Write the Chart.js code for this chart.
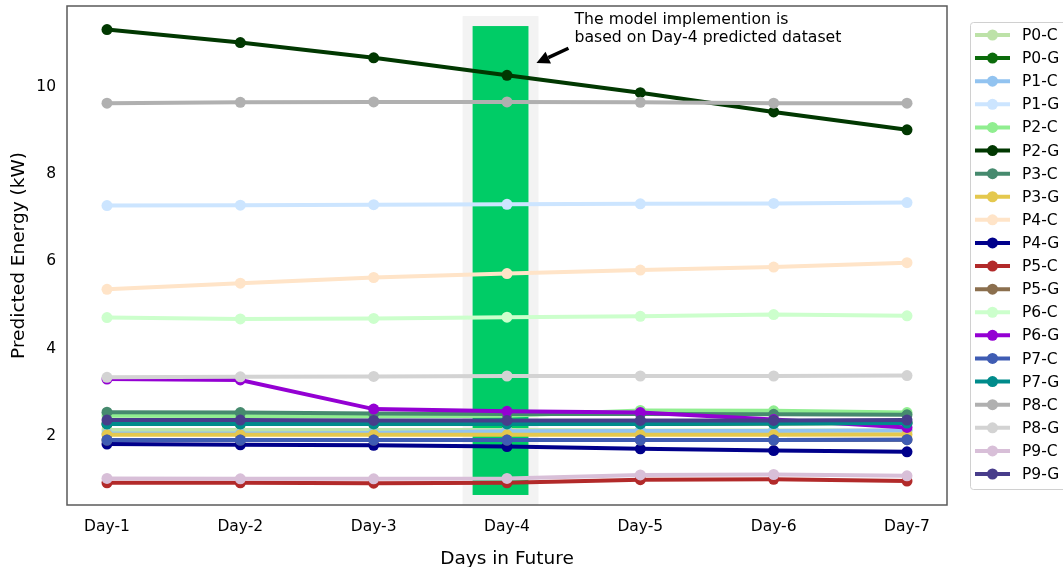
<!DOCTYPE html>
<html>
<head>
<meta charset="utf-8">
<script src="https://cdn.jsdelivr.net/npm/chart.js@4/dist/chart.umd.min.js"></script>
<style>
  html, body { margin: 0; padding: 0; background: #ffffff; }
  #wrap { width: 1063px; height: 567px; }
</style>
</head>
<body>
<div id="wrap"><canvas id="chart" width="1063" height="567"></canvas></div>
<script>
// Forecast horizon
const days = ['Day-1', 'Day-2', 'Day-3', 'Day-4', 'Day-5', 'Day-6', 'Day-7'];
const dayPos = [1, 2, 3, 4, 5, 6, 7];
const yTicks = [2, 4, 6, 8, 10];

// Predicted energy per plant (kW); C = consumption, G = generation
const p0c = [2.13, 2.13, 2.13, 2.13, 2.12, 2.12, 2.12];
const p0g = [2.27, 2.27, 2.27, 2.27, 2.27, 2.28, 2.29];
const p1c = [2.05, 2.05, 2.06, 2.10, 2.11, 2.11, 2.12];
const p1g = [7.28, 7.29, 7.30, 7.31, 7.32, 7.33, 7.35];
const p2c = [2.46, 2.45, 2.44, 2.46, 2.58, 2.57, 2.53];
const p2g = [11.32, 11.02, 10.67, 10.27, 9.87, 9.43, 9.02];
const p3c = [2.54, 2.53, 2.51, 2.50, 2.50, 2.49, 2.48];
const p3g = [2.02, 2.02, 2.02, 2.02, 2.02, 2.02, 2.03];
const p4c = [5.36, 5.50, 5.63, 5.72, 5.80, 5.87, 5.97];
const p4g = [1.81, 1.79, 1.78, 1.75, 1.70, 1.66, 1.63];
const p5c = [0.92, 0.92, 0.91, 0.92, 0.99, 1.00, 0.96];
const p5g = [1.90, 1.90, 1.90, 1.90, 1.90, 1.90, 1.91];
const p6c = [4.71, 4.68, 4.69, 4.72, 4.74, 4.78, 4.75];
const p6g = [3.30, 3.28, 2.61, 2.56, 2.53, 2.37, 2.19];
const p7c = [1.90, 1.90, 1.90, 1.90, 1.90, 1.90, 1.91];
const p7g = [2.27, 2.27, 2.27, 2.27, 2.27, 2.28, 2.29];
const p8c = [9.63, 9.65, 9.66, 9.66, 9.65, 9.63, 9.63];
const p8g = [3.34, 3.35, 3.36, 3.37, 3.37, 3.37, 3.38];
const p9c = [1.02, 1.01, 1.01, 1.02, 1.10, 1.11, 1.08];
const p9g = [2.36, 2.36, 2.35, 2.35, 2.35, 2.35, 2.36];

const seriesNames = ['P0-C', 'P0-G', 'P1-C', 'P1-G', 'P2-C', 'P2-G', 'P3-C', 'P3-G', 'P4-C', 'P4-G',
                     'P5-C', 'P5-G', 'P6-C', 'P6-G', 'P7-C', 'P7-G', 'P8-C', 'P8-G', 'P9-C', 'P9-G'];
const seriesValues = [p0c, p0g, p1c, p1g, p2c, p2g, p3c, p3g, p4c, p4g,
                      p5c, p5g, p6c, p6g, p7c, p7g, p8c, p8g, p9c, p9g];
const seriesColors = ['#bde2a8', '#0b6b0b', '#92c3f0', '#cce5ff', '#90ee90', '#013801', '#468a6e', '#e4c84e',
                      '#ffe4c8', '#00008b', '#b22a2a', '#8b6f4e', '#ccffcc', '#9400d3', '#3f5cb3', '#008b8b',
                      '#b0b0b0', '#d3d3d3', '#d8bfd8', '#483d8b'];

// Highlighted forecast day (x range in day units, y range in kW)
const focusX = [3.742, 4.161];
const focusY = [0.64, 11.40];

// Callout text and arrow (day units, kW)
const noteLines = ['The model implemention is', 'based on Day-4 predicted dataset'];
const noteTextAt = [4.506, 11.54];
const noteArrowTail = [4.461, 10.89];
const noteArrowHead = [4.221, 10.55];

const FONT = "'DejaVu Sans', sans-serif";

const datasets = seriesNames.map((name, i) => ({
  label: name,
  data: seriesValues[i].map((v, k) => ({ x: dayPos[k], y: v })),
  borderColor: seriesColors[i],
  backgroundColor: seriesColors[i],
  pointBackgroundColor: seriesColors[i],
  pointBorderWidth: 0,
  pointRadius: 5.5,
  borderWidth: 4,
  tension: 0,
  fill: false,
  order: seriesNames.length - i
}));

// Green focus band with a pale halo, drawn beneath the lines
const focusBand = {
  id: 'focusBand',
  beforeDatasetsDraw(chart) {
    const { ctx, scales: { x, y } } = chart;
    const x0 = x.getPixelForValue(focusX[0]);
    const x1 = x.getPixelForValue(focusX[1]);
    const y0 = y.getPixelForValue(focusY[1]);
    const y1 = y.getPixelForValue(focusY[0]);
    ctx.save();
    ctx.fillStyle = '#f3f3f3';
    ctx.fillRect(x0 - 10, y0 - 10, (x1 - x0) + 20, (y1 - y0) + 20);
    ctx.fillStyle = '#00cc66';
    ctx.fillRect(x0, y0, x1 - x0, y1 - y0);
    ctx.restore();
  }
};

// Axes frame, callout and legend panel
const decorations = {
  id: 'decorations',
  afterDatasetsDraw(chart) {
    const { ctx, chartArea: a, scales: { x, y } } = chart;
    ctx.save();
    ctx.strokeStyle = '#5a5a5a';
    ctx.lineWidth = 1.5;
    ctx.strokeRect(a.left, a.top, a.right - a.left, a.bottom - a.top);

    // callout text
    ctx.fillStyle = '#000';
    ctx.font = '15.7px ' + FONT;
    ctx.textAlign = 'left';
    ctx.textBaseline = 'middle';
    const tx = x.getPixelForValue(noteTextAt[0]);
    const ty = y.getPixelForValue(noteTextAt[1]);
    noteLines.forEach((t, i) => ctx.fillText(t, tx, ty + i * 17.8));

    // callout arrow
    const hx = x.getPixelForValue(noteArrowHead[0]), hy = y.getPixelForValue(noteArrowHead[1]);
    const sx = x.getPixelForValue(noteArrowTail[0]), sy = y.getPixelForValue(noteArrowTail[1]);
    const ang = Math.atan2(hy - sy, hx - sx);
    const headLen = 13, headW = 6.5;
    const bx = hx - Math.cos(ang) * headLen, by = hy - Math.sin(ang) * headLen;
    ctx.strokeStyle = '#000';
    ctx.lineWidth = 3.5;
    ctx.beginPath();
    ctx.moveTo(sx, sy);
    ctx.lineTo(bx, by);
    ctx.stroke();
    ctx.beginPath();
    ctx.moveTo(hx, hy);
    ctx.lineTo(bx + Math.sin(ang) * headW, by - Math.cos(ang) * headW);
    ctx.lineTo(bx - Math.sin(ang) * headW, by + Math.cos(ang) * headW);
    ctx.closePath();
    ctx.fillStyle = '#000';
    ctx.fill();
    ctx.restore();
  },
  afterDraw(chart) {
    const { ctx, chartArea: a } = chart;
    const boxL = a.right + 23, boxT = 22, boxB = 489, boxR = chart.width + 10;
    ctx.save();
    ctx.fillStyle = 'rgba(255,255,255,0.8)';
    ctx.strokeStyle = '#d0d0d0';
    ctx.lineWidth = 1;
    ctx.beginPath();
    ctx.roundRect(boxL + 0.5, boxT + 0.5, boxR - boxL, boxB - boxT, 3);
    ctx.fill();
    ctx.stroke();
    ctx.font = '15.5px ' + FONT;
    ctx.textAlign = 'left';
    ctx.textBaseline = 'middle';
    const step = (boxB - boxT - 28) / (seriesNames.length - 1);
    seriesNames.forEach((name, i) => {
      const cy = boxT + 13 + i * step;
      const lx0 = boxL + 5, lx1 = boxL + 40;
      ctx.strokeStyle = seriesColors[i];
      ctx.lineWidth = 4;
      ctx.beginPath();
      ctx.moveTo(lx0, cy);
      ctx.lineTo(lx1, cy);
      ctx.stroke();
      ctx.fillStyle = seriesColors[i];
      ctx.beginPath();
      ctx.arc((lx0 + lx1) / 2, cy, 5.5, 0, Math.PI * 2);
      ctx.fill();
      ctx.fillStyle = '#000';
      ctx.fillText(name, boxL + 52, cy + 1);
    });
    ctx.restore();
  }
};

new Chart(document.getElementById('chart'), {
  type: 'line',
  data: { datasets },
  plugins: [focusBand, decorations],
  options: {
    responsive: false,
    devicePixelRatio: 1,
    animation: false,
    events: [],
    layout: { padding: { top: 6, right: 116, left: 0, bottom: 0 } },
    plugins: { legend: { display: false }, tooltip: { enabled: false } },
    scales: {
      x: {
        type: 'linear',
        min: 0.7,
        max: 7.3,
        afterFit(s) { s.height = 62; s.paddingLeft = 0; s.paddingRight = 0; },
        afterBuildTicks(s) { s.ticks = dayPos.map(v => ({ value: v })); },
        grid: { display: false, drawTicks: false },
        border: { display: false },
        ticks: {
          color: '#000',
          font: { family: FONT, size: 15.5 },
          padding: 13,
          maxRotation: 0,
          autoSkip: false,
          callback: (v) => days[dayPos.indexOf(v)]
        },
        title: {
          display: true,
          text: 'Days in Future',
          color: '#000',
          font: { family: FONT, size: 18.5 },
          padding: { top: 0, bottom: -3 }
        }
      },
      y: {
        type: 'linear',
        min: 0.41,
        max: 11.86,
        afterFit(s) { s.width = 67; s.paddingTop = 0; s.paddingBottom = 0; },
        afterBuildTicks(s) { s.ticks = yTicks.map(v => ({ value: v })); },
        grid: { display: false, drawTicks: false },
        border: { display: false },
        ticks: {
          color: '#000',
          font: { family: FONT, size: 15.5 },
          padding: 11,
          callback: (v) => String(v)
        },
        title: {
          display: true,
          text: 'Predicted Energy (kW)',
          color: '#000',
          font: { family: FONT, size: 18.5 },
          padding: { top: 8, bottom: 0 }
        }
      }
    }
  }
});
</script>
</body>
</html>
